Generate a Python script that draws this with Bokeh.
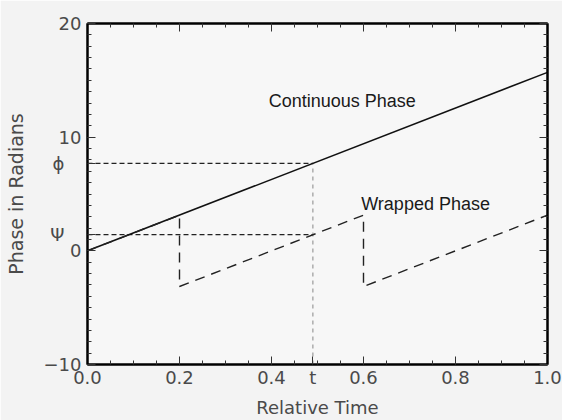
from bokeh.plotting import figure
from bokeh.models import LinearAxis, Range1d, Label, FixedTicker
from bokeh.embed import file_html
from bokeh.resources import INLINE

# ---- data ----
cont_t = [0.0, 1.0]
cont_phase = [0.0, 15.7]

wrap_t = [0.0, 0.2, 0.2, 0.6, 0.6, 1.0]
wrap_phase = [0.0, 3.14, -3.14, 3.14, -3.14, 3.14]

t_mark = 0.49
phi_val = 7.7
psi_val = 1.42

x_ticks = [0.0, 0.2, 0.4, 0.6, 0.8, 1.0]
x_tick_labels = ["0.0", "0.2", "0.4", "0.6", "0.8", "1.0"]
y_ticks = [-10, 0, 10, 20]
y_tick_labels = ["\u221210", "0", "10", "20"]

x_minor = [round(i * 0.05, 2) for i in range(21)]
y_minor = list(range(-10, 21))

annot_text = ["Continuous Phase", "Wrapped Phase"]
annot_x = [0.394, 0.595]
annot_y = [13.2, 4.15]

TICK_FONT = "DejaVu Sans"
TICK_COLOR = "#4a4a4a"
PAD = "\u00a0\u00a0\u00a0"

p = figure(width=562, height=420, output_backend="svg", toolbar_location=None,
           x_range=Range1d(0, 1), y_range=Range1d(-10, 20),
           min_border_left=87, min_border_right=15, min_border_top=23, min_border_bottom=56,
           x_axis_label="Relative Time", y_axis_label="Phase in Radians")

p.background_fill_color = "#f7f7f7"
p.border_fill_color = "#f3f3f3"
p.outline_line_color = "black"
p.outline_line_width = 2
p.xgrid.visible = False
p.ygrid.visible = False

def style_axis(ax, ticks, minor, labels=None, show_labels=True):
    ax.ticker = FixedTicker(ticks=ticks, minor_ticks=minor)
    ax.major_tick_in = 8
    ax.major_tick_out = 0
    ax.minor_tick_in = 4
    ax.minor_tick_out = 0
    ax.axis_line_color = "black"
    ax.axis_line_width = 2
    ax.major_tick_line_color = "#333333"
    ax.minor_tick_line_color = "#333333"
    ax.major_tick_line_width = 1
    ax.minor_tick_line_width = 1
    ax.major_label_text_font = TICK_FONT
    ax.major_label_text_font_size = "18px"
    ax.major_label_text_color = TICK_COLOR
    ax.axis_label_text_font = TICK_FONT
    ax.axis_label_text_font_size = "18px"
    ax.axis_label_text_font_style = "normal"
    ax.axis_label_text_color = TICK_COLOR
    if labels is not None:
        ax.major_label_overrides = {t: l for t, l in zip(ticks, labels)}
    if not show_labels:
        ax.major_label_text_color = None

# bottom axis: regular ticks plus the "t" mark
xa = p.xaxis[0]
style_axis(xa, x_ticks + [t_mark], x_minor, x_tick_labels + ["t"])
xa.major_label_standoff = 2
xa.axis_label_standoff = 6

# left axis: regular ticks plus phi and psi marks
ya = p.yaxis[0]
style_axis(ya, y_ticks + [phi_val, psi_val], y_minor,
           y_tick_labels + ["\u03d5" + PAD, "\u03a8" + PAD])
ya.major_label_standoff = 6
ya.axis_label_standoff = 14
ya.axis_label_text_font_size = "19px"

top = LinearAxis()
style_axis(top, x_ticks, x_minor, show_labels=False)
p.add_layout(top, "above")
right = LinearAxis()
style_axis(right, y_ticks, y_minor, show_labels=False)
p.add_layout(right, "right")

# guide lines for phi, psi and t
p.line([0, t_mark], [phi_val, phi_val], line_color="#222222", line_width=1.3, line_dash="5 3")
p.line([0, t_mark], [psi_val, psi_val], line_color="#222222", line_width=1.3, line_dash="5 3")
p.line([t_mark, t_mark], [-10, phi_val], line_color="#888888", line_width=1, line_dash="4 4")

# phases
p.line(cont_t, cont_phase, line_color="#111111", line_width=1.6)
p.line(wrap_t, wrap_phase, line_color="#222222", line_width=1.4, line_dash="10 7")

for txt, xx, yy in zip(annot_text, annot_x, annot_y):
    p.add_layout(Label(x=xx, y=yy, text=txt, text_font="Liberation Sans",
                       text_font_size="18px", text_color="#1a1a1a",
                       text_baseline="middle", text_align="left"))

open("out.html", "w").write(file_html(p, INLINE))
